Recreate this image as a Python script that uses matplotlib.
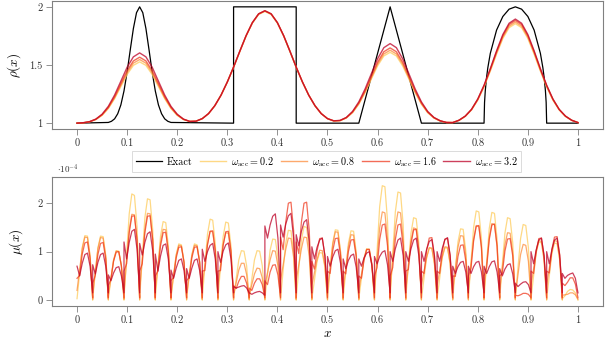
import numpy as np
import matplotlib
matplotlib.use("Agg")
import matplotlib.pyplot as plt

plt.rcParams['font.family'] = 'serif'
plt.rcParams['font.serif'] = ['cmr10', 'DejaVu Serif']
plt.rcParams['mathtext.fontset'] = 'cm'
plt.rcParams['axes.unicode_minus'] = False

##### data #########

# exact solution (top panel)
exact_x = [0.0, 0.0625, 0.06875, 0.075, 0.08125, 0.0875, 0.09375, 0.1, 0.10625, 0.1125, 0.11875,
           0.125, 0.13125, 0.1375, 0.14375, 0.15, 0.15625, 0.1625, 0.16875, 0.175, 0.18125, 0.1875,
           0.3125, 0.3125, 0.4375, 0.4375, 0.5625, 0.625, 0.6875,
           0.8125, 0.8135, 0.815, 0.8175, 0.82, 0.825, 0.8375, 0.85, 0.8625, 0.875,
           0.8875, 0.9, 0.9125, 0.925, 0.93, 0.9325, 0.935, 0.9365, 0.9375, 1.0]
exact_y = [1.0, 1.006, 1.016, 1.037, 1.081, 1.157, 1.277, 1.440, 1.630, 1.814, 1.950,
           2.0, 1.950, 1.814, 1.630, 1.440, 1.277, 1.157, 1.081, 1.037, 1.016, 1.006,
           1.0, 2.0, 2.0, 1.0, 1.0, 2.0, 1.0,
           1.0, 1.178, 1.28, 1.392, 1.475, 1.6, 1.8, 1.917, 1.98, 2.0,
           1.98, 1.917, 1.8, 1.6, 1.475, 1.392, 1.28, 1.178, 1.0, 1.0]

# numerical rho, sampled every 0.0125
rho_02 = [1.0, 1.003, 1.012, 1.031, 1.067, 1.126, 1.211, 1.315, 1.419, 1.497, 1.527, 1.497, 1.419, 1.315,
          1.211, 1.126, 1.067, 1.031, 1.015, 1.016, 1.038, 1.082, 1.149, 1.240, 1.352, 1.479, 1.615, 1.748,
          1.859, 1.934, 1.960, 1.934, 1.859, 1.748, 1.615, 1.479, 1.352, 1.240, 1.149, 1.082, 1.038, 1.018,
          1.021, 1.044, 1.090, 1.163, 1.262, 1.379, 1.493, 1.578, 1.609, 1.578, 1.493, 1.379, 1.262, 1.163,
          1.090, 1.044, 1.018, 1.005, 1.005, 1.024, 1.058, 1.114, 1.198, 1.312, 1.448, 1.594, 1.728, 1.821,
          1.855, 1.821, 1.728, 1.594, 1.448, 1.312, 1.198, 1.114, 1.058, 1.024, 1.005]
rho_08 = [1.0, 1.003, 1.012, 1.032, 1.070, 1.131, 1.219, 1.327, 1.435, 1.516, 1.547, 1.516, 1.435, 1.327,
          1.219, 1.131, 1.070, 1.032, 1.015, 1.017, 1.039, 1.082, 1.150, 1.241, 1.354, 1.482, 1.619, 1.752,
          1.864, 1.939, 1.965, 1.939, 1.864, 1.752, 1.619, 1.482, 1.354, 1.241, 1.150, 1.082, 1.039, 1.019,
          1.022, 1.045, 1.093, 1.168, 1.270, 1.390, 1.508, 1.595, 1.627, 1.595, 1.508, 1.390, 1.270, 1.168,
          1.093, 1.045, 1.019, 1.006, 1.005, 1.024, 1.059, 1.116, 1.202, 1.317, 1.455, 1.604, 1.740, 1.834,
          1.869, 1.834, 1.740, 1.604, 1.455, 1.317, 1.202, 1.116, 1.059, 1.024, 1.005]
rho_16 = [1.0, 1.003, 1.012, 1.033, 1.073, 1.136, 1.227, 1.339, 1.451, 1.535, 1.567, 1.535, 1.451, 1.339,
          1.227, 1.136, 1.073, 1.033, 1.015, 1.017, 1.039, 1.082, 1.150, 1.241, 1.354, 1.482, 1.619, 1.752,
          1.864, 1.939, 1.965, 1.939, 1.864, 1.752, 1.619, 1.482, 1.354, 1.241, 1.150, 1.082, 1.039, 1.020,
          1.022, 1.047, 1.096, 1.173, 1.278, 1.402, 1.524, 1.614, 1.647, 1.614, 1.524, 1.402, 1.278, 1.173,
          1.096, 1.047, 1.019, 1.006, 1.005, 1.025, 1.060, 1.117, 1.205, 1.322, 1.463, 1.614, 1.751, 1.848,
          1.883, 1.848, 1.751, 1.614, 1.463, 1.322, 1.205, 1.117, 1.060, 1.025, 1.005]
rho_32 = [1.0, 1.004, 1.013, 1.035, 1.077, 1.145, 1.242, 1.361, 1.481, 1.570, 1.604, 1.570, 1.481, 1.361,
          1.242, 1.145, 1.077, 1.035, 1.015, 1.017, 1.039, 1.082, 1.150, 1.241, 1.354, 1.482, 1.619, 1.752,
          1.864, 1.940, 1.967, 1.940, 1.864, 1.752, 1.619, 1.482, 1.354, 1.241, 1.150, 1.082, 1.039, 1.020,
          1.024, 1.049, 1.101, 1.183, 1.294, 1.425, 1.554, 1.649, 1.684, 1.649, 1.554, 1.425, 1.294, 1.183,
          1.101, 1.049, 1.021, 1.006, 1.005, 1.025, 1.061, 1.119, 1.208, 1.327, 1.469, 1.622, 1.762, 1.859,
          1.895, 1.859, 1.762, 1.622, 1.469, 1.327, 1.208, 1.119, 1.061, 1.025, 1.005]

# viscosity mu (units of 1e-4): 32 elements, 7 samples per element
mu_02 = [
    [.03, .57, 1.09, 1.33, 1.32, .92, 0], [.03, .57, 1.08, 1.32, 1.31, .92, 0],
    [.03, .44, .83, 1.02, 1.01, .71, 0], [.03, .94, 1.78, 2.19, 2.16, 1.52, 0],
    [.03, .89, 1.70, 2.09, 2.07, 1.45, 0], [.03, .69, 1.32, 1.62, 1.60, 1.12, 0],
    [.03, .50, .94, 1.16, 1.14, .80, 0], [.03, .50, .94, 1.16, 1.14, .80, 0],
    [.03, .71, 1.36, 1.67, 1.65, 1.16, 0], [.03, .69, 1.31, 1.61, 1.59, 1.12, 0],
    [.03, .44, .83, 1.02, 1.01, .71, 0], [.03, .44, .83, 1.02, 1.01, .71, 0],
    [.03, .54, 1.03, 1.26, 1.25, .88, 0], [.03, .62, 1.18, 1.44, 1.43, 1.00, 0],
    [.03, .65, 1.24, 1.52, 1.50, 1.05, 0], [.03, .42, .80, .98, .97, .68, 0],
    [.03, .62, 1.18, 1.45, 1.44, 1.01, 0], [.03, .61, 1.17, 1.43, 1.42, .99, 0],
    [.03, .45, .86, 1.06, 1.05, .73, 0], [.03, 1.01, 1.93, 2.36, 2.34, 1.64, 0],
    [.03, .96, 1.82, 2.23, 2.21, 1.55, 0], [.03, .73, 1.38, 1.70, 1.68, 1.18, 0],
    [.03, .46, .88, 1.08, 1.07, .75, 0], [.03, .46, .88, 1.08, 1.07, .75, 0],
    [.03, .63, 1.20, 1.47, 1.46, 1.02, 0], [.03, .79, 1.50, 1.84, 1.82, 1.28, 0],
    [.03, .78, 1.48, 1.81, 1.79, 1.26, 0], [.03, .73, 1.38, 1.70, 1.68, 1.18, 0],
    [.03, .67, 1.27, 1.56, 1.54, 1.08, 0], [.03, .51, .98, 1.20, 1.18, .83, 0],
    [.03, .50, .96, 1.18, 1.16, .82, 0], [.03, .09, .18, .22, .21, .15, 0],
]
mu_08 = [
    [.20, .63, 1.06, 1.30, 1.29, .90, .02], [.10, .58, 1.06, 1.29, 1.28, .90, .02],
    [.10, .46, .82, 1.01, 1.00, .70, .02], [.15, .80, 1.45, 1.77, 1.76, 1.23, .02],
    [.20, .83, 1.46, 1.79, 1.78, 1.24, .02], [.20, .70, 1.19, 1.46, 1.45, 1.01, .02],
    [.10, .51, .92, 1.13, 1.12, .78, .02], [.10, .51, .92, 1.13, 1.12, .78, .02],
    [.30, .73, 1.16, 1.42, 1.41, .99, .02], [.30, .72, 1.14, 1.39, 1.38, .97, .02],
    [.10, .36, .62, .76, .76, .53, .02], [.10, .32, .54, .66, .65, .46, .02],
    [.30, .57, .83, 1.02, 1.01, .71, .02], [.40, .72, 1.05, 1.28, 1.27, .89, .02],
    [.40, .73, 1.06, 1.30, 1.29, .90, .02], [.30, .57, .84, 1.03, 1.02, .71, .02],
    [.20, .68, 1.15, 1.41, 1.40, .98, .02], [.20, .65, 1.10, 1.35, 1.34, .94, .02],
    [.20, .53, .86, 1.05, 1.04, .73, .02], [.20, .84, 1.49, 1.82, 1.80, 1.26, .02],
    [.20, .84, 1.49, 1.82, 1.80, 1.26, .02], [.20, .71, 1.22, 1.49, 1.47, 1.03, .02],
    [.30, .59, .88, 1.08, 1.07, .75, .02], [.30, .60, .90, 1.10, 1.09, .76, .02],
    [.20, .64, 1.09, 1.33, 1.32, .92, .02], [.20, .73, 1.26, 1.54, 1.52, 1.07, .02],
    [.20, .74, 1.29, 1.58, 1.56, 1.09, .02], [.20, .67, 1.14, 1.39, 1.38, .97, .02],
    [.10, .52, .94, 1.15, 1.13, .80, .02], [.30, .65, 1.00, 1.23, 1.21, .85, .02],
    [.30, .65, 1.00, 1.23, 1.21, .85, .02], [.10, .11, .12, .15, .15, .11, .02],
]
mu_16 = [
    [.45, .51, .95, 1.18, 1.20, .85, .05], [.35, .51, .94, 1.17, 1.19, .85, .05],
    [.30, .43, .80, .99, 1.00, .71, .05], [.60, .75, 1.39, 1.73, 1.74, 1.25, .05],
    [.60, .75, 1.39, 1.73, 1.74, 1.25, .05], [.50, .60, 1.12, 1.39, 1.40, 1.00, .05],
    [.40, .47, .87, 1.09, 1.10, .78, .05], [.40, .47, .87, 1.09, 1.10, .78, .05],
    [.60, .61, 1.14, 1.42, 1.43, 1.02, .05], [.60, .61, 1.13, 1.41, 1.42, 1.02, .05],
    [.30, .24, .39, .49, .49, .35, .05], [.25, .20, .35, .44, .44, .32, .05],
    [.40, .32, .58, .72, .73, .52, .05], [1.30, 1.04, 1.61, 2.00, 2.02, 1.44, .05],
    [1.20, .96, 1.61, 2.00, 2.02, 1.44, .05], [.80, .64, 1.02, 1.27, 1.28, .92, .05],
    [.60, .55, 1.02, 1.27, 1.28, .92, .05], [.60, .54, 1.00, 1.24, 1.25, .90, .05],
    [.50, .45, .83, 1.04, 1.05, .75, .05], [.50, .67, 1.25, 1.55, 1.57, 1.12, .05],
    [.50, .67, 1.25, 1.55, 1.57, 1.12, .05], [.60, .63, 1.16, 1.45, 1.46, 1.04, .05],
    [.60, .55, 1.03, 1.28, 1.29, .92, .05], [.60, .55, 1.01, 1.26, 1.27, .91, .05],
    [.50, .49, .90, 1.13, 1.14, .81, .05], [.50, .66, 1.22, 1.52, 1.54, 1.10, .05],
    [.50, .67, 1.25, 1.55, 1.57, 1.12, .05], [.50, .55, 1.01, 1.26, 1.27, .91, .05],
    [.10, .09, .11, .14, .14, .12, .05], [.60, .55, 1.02, 1.27, 1.28, .92, .05],
    [.60, .56, 1.05, 1.30, 1.31, .94, .05], [.35, .30, .37, .46, .46, .33, .05],
]
mu_32 = [
    [.70, .50, .76, .94, .97, .70, .15], [.73, .54, .78, .94, .97, .70, .15],
    [.52, .40, .56, .67, .69, .50, .15], [1.20, .85, 1.19, 1.42, 1.46, 1.05, .15],
    [1.17, .93, 1.19, 1.37, 1.41, 1.02, .15], [.95, .60, .91, 1.13, 1.16, .84, .15],
    [.62, .45, .66, .82, .85, .61, .15], [.65, .45, .66, .82, .85, .61, .15],
    [1.05, .80, 1.00, 1.13, 1.17, .84, .15], [1.00, .78, 1.01, 1.14, 1.18, .85, .15],
    [.28, .25, .27, .29, .30, .25, .15], [.15, .12, .15, .17, .18, .15, .10],
    [1.53, 1.28, 1.55, 1.73, 1.78, 1.28, .15], [1.55, 1.30, 1.57, 1.74, 1.79, 1.29, .15],
    [1.35, 1.12, 1.42, 1.61, 1.66, 1.20, .15], [1.10, .85, 1.09, 1.24, 1.28, .92, .15],
    [.90, .70, .89, 1.02, 1.05, .76, .15], [.85, .65, .82, .92, .95, .68, .15],
    [.85, .70, .87, .97, 1.00, .72, .15], [.90, .75, .90, .99, 1.02, .73, .15],
    [1.00, .80, 1.06, 1.24, 1.28, .92, .15], [1.00, .80, 1.06, 1.24, 1.28, .92, .15],
    [1.00, .80, 1.05, 1.21, 1.25, .90, .15], [1.00, .80, 1.07, 1.25, 1.29, .93, .15],
    [.70, .55, .69, .78, .80, .58, .15], [.70, .55, .69, .78, .80, .58, .15],
    [.70, .55, .69, .79, .81, .58, .15], [.65, .50, .64, .73, .75, .54, .15],
    [.35, .28, .33, .37, .38, .32, .15], [1.00, .75, 1.04, 1.24, 1.28, .92, .15],
    [1.00, .75, 1.04, 1.24, 1.28, .92, .15], [.55, .45, .51, .54, .56, .45, .15],
]

labels = ['Exact', r'$\omega_{\mathrm{acc}} = 0.2$', r'$\omega_{\mathrm{acc}} = 0.8$',
          r'$\omega_{\mathrm{acc}} = 1.6$', r'$\omega_{\mathrm{acc}} = 3.2$']
colors = ['#fecc5c', '#fd8d3c', '#f03b20', '#bd0026']
xticks = [0, 0.1, 0.2, 0.3, 0.4, 0.5, 0.6, 0.7, 0.8, 0.9, 1.0]
xticklabels = ['0', '0.1', '0.2', '0.3', '0.4', '0.5', '0.6', '0.7', '0.8', '0.9', '1']

###################

n_el = 32
x_rho = np.linspace(0, 1, len(rho_02))
x_mu = ((np.arange(n_el)[:, None] + np.arange(7)[None, :] / 6) / n_el).ravel()

fig = plt.figure(figsize=(6.08, 3.43), dpi=100)
ax1 = fig.add_axes([0.0855, 0.624, 0.9063, 0.373])
ax2 = fig.add_axes([0.0855, 0.108, 0.9063, 0.376])

h_exact, = ax1.plot(exact_x, exact_y, color='black', lw=0.9, zorder=3)
handles = [h_exact]
for rho, mu, c, lab in zip([rho_02, rho_08, rho_16, rho_32], [mu_02, mu_08, mu_16, mu_32], colors, labels[1:]):
    h, = ax1.plot(x_rho, rho, color=c, lw=1.0, alpha=0.75, zorder=4)
    handles.append(h)
    ax2.plot(x_mu, np.ravel(mu), color=c, lw=0.9, alpha=0.75)

ax1.set_xlim(-0.05, 1.05)
ax1.set_ylim(0.95, 2.05)
ax1.set_yticks([1, 1.5, 2])
ax1.set_yticklabels(['1', '1.5', '2'])
ax1.set_ylabel(r'$\rho(x)$', fontsize=9.5, labelpad=4)

ax2.set_xlim(-0.05, 1.05)
ax2.set_ylim(-0.12, 2.54)
ax2.set_yticks([0, 1, 2])
ax2.set_yticklabels(['0', '1', '2'])
ax2.set_ylabel(r'$\mu(x)$', fontsize=9.5, labelpad=9)
ax2.set_xlabel(r'$x$', fontsize=9.5, labelpad=2)
ax2.text(0.01, 1.01, r'$\cdot 10^{-4}$', transform=ax2.transAxes, fontsize=6.5,
         ha='left', va='bottom', color='#333333')

for ax in (ax1, ax2):
    ax.set_xticks(xticks)
    ax.set_xticklabels(xticklabels)
    ax.tick_params(direction='out', length=4, width=0.6, color='#808080',
                   labelsize=7.5, labelcolor='#333333', pad=3)
    for sp in ax.spines.values():
        sp.set_color('#808080')
        sp.set_linewidth(0.8)

leg = fig.legend(handles, labels, ncol=5, loc='center', bbox_to_anchor=(0.537, 0.528),
                 fontsize=7.3, frameon=True, fancybox=False, edgecolor='#cccccc',
                 handlelength=2.6, columnspacing=0.7, handletextpad=0.5, borderpad=0.35)
leg.get_frame().set_linewidth(0.6)

fig.savefig('out.png', dpi=100)
